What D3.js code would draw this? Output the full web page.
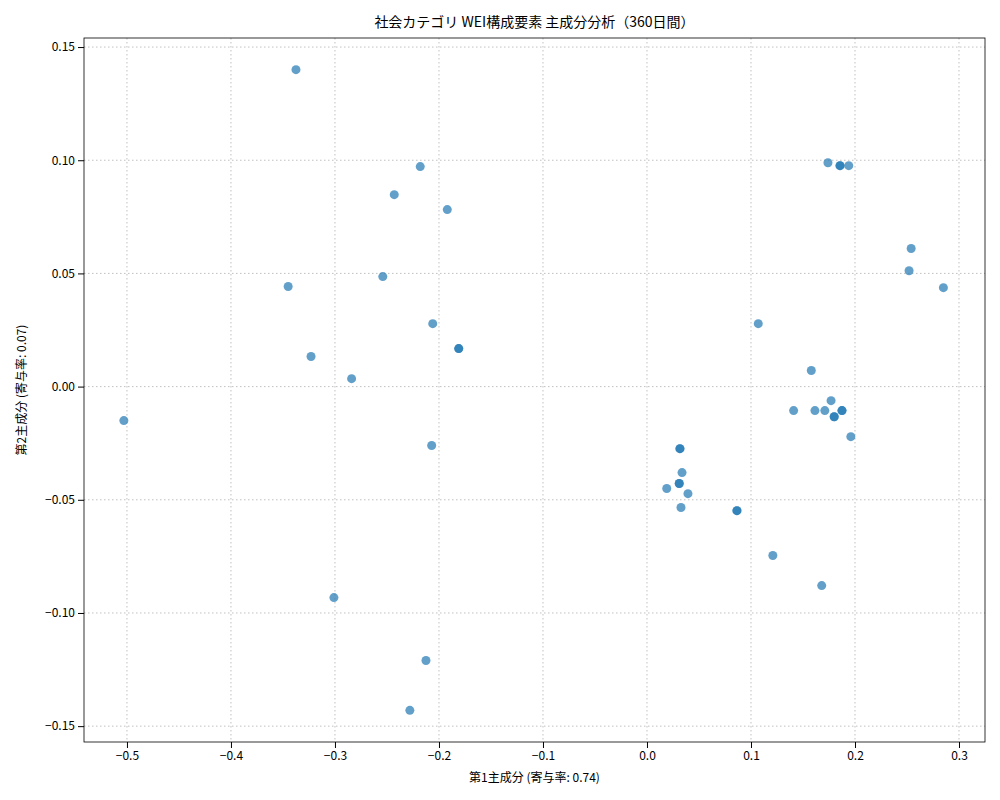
<!DOCTYPE html><html><head><meta charset="utf-8"><script src="https://cdn.jsdelivr.net/npm/d3@7"></script>
<style>body{margin:0;background:#fff}text{font-family:"Noto Sans CJK JP","DejaVu Sans",sans-serif}</style></head><body><svg id="c" width="1000" height="800"></svg><script>
const pc1=[-0.3375,-0.218,-0.243,-0.192,-0.345,-0.254,-0.206,-0.181,-0.181,-0.323,-0.284,-0.503,-0.207,-0.301,-0.2125,-0.228,0.174,0.1856,0.1856,0.194,0.254,0.252,0.285,0.107,0.158,0.177,0.141,0.1615,0.171,0.1875,0.1875,0.18,0.18,0.196,0.0317,0.0317,0.0337,0.031,0.031,0.019,0.0394,0.0327,0.0865,0.0865,0.121,0.168];
const pc2=[0.140,0.0972,0.0848,0.0782,0.0442,0.0486,0.0278,0.0168,0.0168,0.0133,0.0035,-0.015,-0.026,-0.0932,-0.121,-0.143,0.0989,0.0976,0.0976,0.0976,0.061,0.0512,0.0437,0.0278,0.0071,-0.0062,-0.0106,-0.0106,-0.0106,-0.0106,-0.0106,-0.0133,-0.0133,-0.0221,-0.0274,-0.0274,-0.038,-0.0428,-0.0428,-0.045,-0.0473,-0.0534,-0.0548,-0.0548,-0.0746,-0.0879];
const xTicks=[-0.5,-0.4,-0.3,-0.2,-0.1,0,0.1,0.2,0.3];
const yTicks=[-0.15,-0.10,-0.05,0,0.05,0.10,0.15];
const L=84,R=985,T=38,B=742;
const svg=d3.select("#c");
const x=d3.scaleLinear().domain([-0.5413,0.325]).range([L,R]);
const y=d3.scaleLinear().domain([-0.157,0.154]).range([B,T]);
const g=svg.append("g");
xTicks.forEach(t=>g.append("line").attr("x1",x(t)).attr("x2",x(t)).attr("y1",T).attr("y2",B).attr("stroke","#b0b0b0").attr("stroke-dasharray","1.5,2.5").attr("stroke-width",0.8));
yTicks.forEach(t=>g.append("line").attr("y1",y(t)).attr("y2",y(t)).attr("x1",L).attr("x2",R).attr("stroke","#b0b0b0").attr("stroke-dasharray","1.5,2.5").attr("stroke-width",0.8));
pc1.forEach((v,i)=>svg.append("circle").attr("cx",x(v)).attr("cy",y(pc2[i])).attr("r",4.5).attr("fill","#1f77b4").attr("fill-opacity",0.7));
const xa=svg.append("g").attr("transform",`translate(0,${B})`).call(d3.axisBottom(x).tickValues(xTicks).tickFormat(d=>d===0?"0.0":d3.format(".1f")(d).replace("-","−")).tickSizeOuter(0));
const ya=svg.append("g").attr("transform",`translate(${L},0)`).call(d3.axisLeft(y).tickValues(yTicks).tickFormat(d=>d3.format(".2f")(d).replace("-","−")).tickSizeOuter(0));
[xa,ya].forEach(a=>{a.select(".domain").remove();a.selectAll("text").attr("font-size",12).attr("fill","#000");a.selectAll("line").attr("stroke","#000");});
svg.append("rect").attr("x",L).attr("y",T).attr("width",R-L).attr("height",B-T).attr("fill","none").attr("stroke","#000").attr("stroke-width",0.8);
svg.append("text").attr("x",(L+R)/2).attr("y",27).attr("text-anchor","middle").attr("font-size",14).text("社会カテゴリ WEI構成要素 主成分分析（360日間）");
svg.append("text").attr("x",(L+R)/2).attr("y",782).attr("text-anchor","middle").attr("font-size",12).text("第1主成分 (寄与率: 0.74)");
svg.append("text").attr("transform",`translate(26,${(T+B)/2}) rotate(-90)`).attr("text-anchor","middle").attr("font-size",12).text("第2主成分 (寄与率: 0.07)");
</script></body></html>
